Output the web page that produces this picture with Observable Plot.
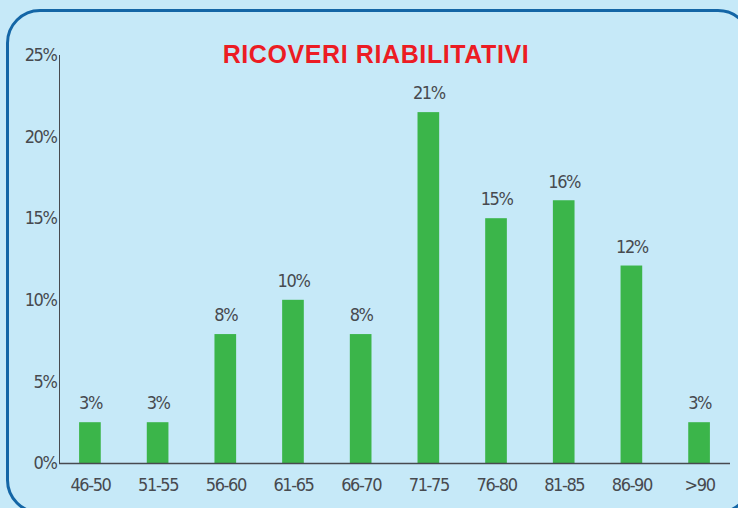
<!DOCTYPE html>
<html>
<head>
<meta charset="utf-8">
<script src="https://cdn.jsdelivr.net/npm/d3@7"></script>
<script src="https://cdn.jsdelivr.net/npm/@observablehq/plot@0.6"></script>
<style>
  html, body { margin: 0; padding: 0; background: #c6e9f8; }
  #wrap { position: relative; width: 738px; height: 508px; overflow: hidden; background: #c6e9f8; }
  #border { position: absolute; left: 6px; top: 9px; width: 746px; height: 505px; border: 3px solid #1466a6; border-radius: 34px; box-sizing: border-box; }
  #chart { position: absolute; left: 0; top: 0; }
  #chart text { letter-spacing: -1.4px; }
  #chart text.title { letter-spacing: 0.6px; }
</style>
</head>
<body>
<div id="wrap"><div id="border"></div><div id="chart"></div></div>
<script>
const title = "RICOVERI RIABILITATIVI";
const categories = ["46-50","51-55","56-60","61-65","66-70","71-75","76-80","81-85","86-90",">90"];
const values = [2.5, 2.5, 7.9, 10, 7.9, 21.5, 15, 16.1, 12.1, 2.5];
const labels = ["3%","3%","8%","10%","8%","21%","15%","16%","12%","3%"];
const yTicks = [0, 5, 10, 15, 20, 25];

const data = categories.map((c, i) => ({cat: c, value: values[i], label: labels[i]}));
const font = "'DejaVu Sans Condensed', 'Liberation Sans Narrow', sans-serif";

const chart = Plot.plot({
  width: 738,
  height: 508,
  marginLeft: 59,
  marginRight: 8,
  marginTop: 55,
  marginBottom: 45,
  style: {background: "transparent", fontFamily: font, fontSize: "18px", color: "#474a4f"},
  x: {domain: categories, paddingInner: 0.68, paddingOuter: 0.297, round: false, label: null, tickSize: 0, tickPadding: 15},
  y: {domain: [0, 25], ticks: yTicks, tickFormat: d => d + "%", label: null, tickSize: 0, tickPadding: 3, line: true},
  marks: [
    Plot.barY(data, {x: "cat", y: "value", fill: "#3bb54a"}),
    Plot.ruleY([0], {stroke: "#474a4f", strokeWidth: 1.5}),
    Plot.text(data, {x: "cat", y: "value", text: "label", dy: -19, fill: "#474a4f", fontSize: 18}),
    Plot.text([title], {frameAnchor: "top", dx: -19, dy: -10, fill: "#ec1c24", fontSize: 25, fontWeight: "bold", fontFamily: "'Liberation Sans', sans-serif"})
  ]
});
chart.querySelectorAll("g[aria-label='text']").forEach((g, i) => { if (i === 1) g.querySelectorAll("text").forEach(t => t.classList.add("title")); });
document.getElementById("chart").appendChild(chart);
</script>
</body>
</html>
